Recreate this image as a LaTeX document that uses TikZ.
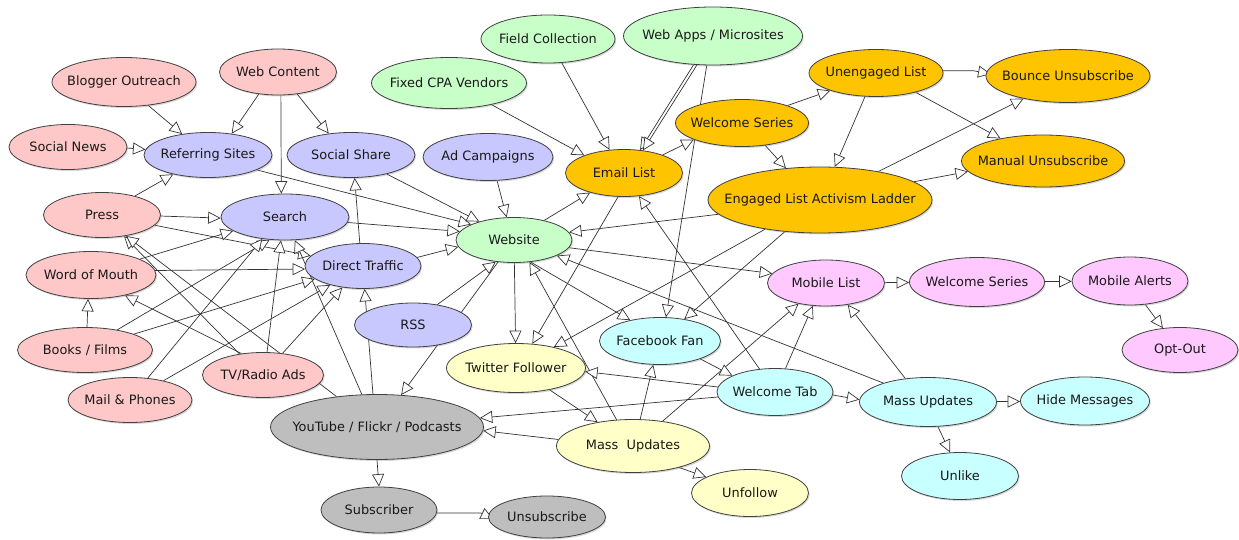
\documentclass[tikz,border=0pt]{standalone}
\usepackage{fontspec}
\setmainfont{DejaVu Sans}
\usetikzlibrary{shapes.geometric,arrows.meta,shadows}
\pgfdeclarelayer{bg}
\pgfsetlayers{bg,main}
\definecolor{cRed}{RGB}{255,200,200}
\definecolor{cBlue}{RGB}{200,200,255}
\definecolor{cGreen}{RGB}{200,255,200}
\definecolor{cOrange}{RGB}{255,196,0}
\definecolor{cPink}{RGB}{255,200,255}
\definecolor{cCyan}{RGB}{200,255,255}
\definecolor{cYellow}{RGB}{255,255,200}
\definecolor{cGray}{RGB}{190,190,190}
\tikzset{
  ell/.style={ellipse, draw=black!75, line width=0.8pt, inner sep=0pt,
    text=black!90, font=\fontsize{12.9pt}{15pt}\selectfont,
    drop shadow={shadow xshift=1.2pt, shadow yshift=-1.5pt, opacity=0.3}},
  nred/.style={ell, fill=cRed},
  nblue/.style={ell, fill=cBlue},
  ngreen/.style={ell, fill=cGreen},
  norange/.style={ell, fill=cOrange},
  npink/.style={ell, fill=cPink},
  ncyan/.style={ell, fill=cCyan},
  nyellow/.style={ell, fill=cYellow},
  ngray/.style={ell, fill=cGray},
  sz/.style 2 args={minimum width=#1pt, minimum height=#2pt},
  conn/.style={draw=black!80, line width=0.7pt,
    -{Triangle[length=12.5pt,width=12pt,fill=white]}}
}
\begin{document}
\begin{tikzpicture}[x=1pt,y=-1pt]
\useasboundingbox (0,0) rectangle (1239,540);
% nodes
\node[nred,sz={144}{49}] (blog) at (124,82) {\makebox[0pt]{Blogger Outreach}};
\node[nred,sz={117}{46}] (webc) at (278,72) {\makebox[0pt]{Web Content}};
\node[nred,sz={118}{45}] (snews) at (68,147) {\makebox[0pt]{Social News}};
\node[nblue,sz={128}{45}] (refs) at (208,155) {\makebox[0pt]{Referring Sites}};
\node[nblue,sz={128}{45}] (sshare) at (351,155) {\makebox[0pt]{Social Share}};
\node[nblue,sz={130}{47}] (adc) at (488,157) {\makebox[0pt]{Ad Campaigns}};
\node[nred,sz={117}{45}] (press) at (102,215) {\makebox[0pt]{Press}};
\node[nblue,sz={128}{46}] (search) at (285,217) {\makebox[0pt]{Search}};
\node[nblue,sz={116}{45}] (dtraf) at (363,266) {\makebox[0pt]{Direct Traffic}};
\node[nred,sz={130}{47}] (wom) at (91,275) {\makebox[0pt]{Word of Mouth}};
\node[nred,sz={135}{45}] (books) at (85,350) {\makebox[0pt]{Books / Films}};
\node[nred,sz={124}{45}] (mail) at (130,400) {\makebox[0pt]{Mail \& Phones}};
\node[nred,sz={121}{45}] (tvr) at (263,375) {\makebox[0pt]{TV/Radio Ads}};
\node[nblue,sz={117}{44}] (rss) at (413,325) {\makebox[0pt]{RSS}};
\node[ngray,sz={213}{65}] (yt) at (377,427) {\makebox[0pt]{YouTube / Flickr / Podcasts}};
\node[ngray,sz={116}{46}] (subs) at (379,510) {\makebox[0pt]{Subscriber}};
\node[ngray,sz={117}{42}] (unsub) at (547,517) {\makebox[0pt]{Unsubscribe}};
\node[ngreen,sz={134}{48}] (field) at (548,39) {\makebox[0pt]{Field Collection}};
\node[ngreen,sz={179}{58}] (webapps) at (713,36) {\makebox[0pt]{Web Apps / Microsites}};
\node[ngreen,sz={155}{51}] (fcpa) at (449,83) {\makebox[0pt]{Fixed CPA Vendors}};
\node[norange,sz={117}{47}] (email) at (624,173) {\makebox[0pt]{Email List}};
\node[norange,sz={133}{47}] (wser) at (742,123) {\makebox[0pt]{Welcome Series}};
\node[ngreen,sz={116}{45}] (web) at (514,240) {\makebox[0pt]{Website}};
\node[norange,sz={134}{47}] (uneng) at (876,73) {\makebox[0pt]{Unengaged List}};
\node[norange,sz={164}{53}] (bounce) at (1068,76) {\makebox[0pt]{Bounce Unsubscribe}};
\node[norange,sz={163}{52}] (manual) at (1043,161) {\makebox[0pt]{Manual Unsubscribe}};
\node[norange,sz={224}{66}] (eng) at (820,200) {\makebox[0pt]{Engaged List Activism Ladder}};
\node[npink,sz={117}{46}] (mob) at (826,283) {\makebox[0pt]{Mobile List}};
\node[ncyan,sz={121}{47}] (fb) at (660,341) {\makebox[0pt]{Facebook Fan}};
\node[nyellow,sz={139}{49}] (tw) at (516,368) {\makebox[0pt]{Twitter Follower}};
\node[ncyan,sz={116}{47}] (wtab) at (775,392) {\makebox[0pt]{Welcome Tab}};
\node[nyellow,sz={153}{53}] (massy) at (633,446) {\makebox[0pt]{Mass\ \ Updates}};
\node[nyellow,sz={117}{47}] (unfollow) at (750,493) {\makebox[0pt]{Unfollow}};
\node[npink,sz={135}{49}] (mser) at (977,282) {\makebox[0pt]{Welcome Series}};
\node[npink,sz={116}{48}] (malerts) at (1130,281) {\makebox[0pt]{Mobile Alerts}};
\node[npink,sz={116}{45}] (optout) at (1180,350) {\makebox[0pt]{Opt-Out}};
\node[ncyan,sz={137}{49}] (massc) at (928,402) {\makebox[0pt]{Mass Updates}};
\node[ncyan,sz={129}{48}] (hide) at (1085,401) {\makebox[0pt]{Hide Messages}};
\node[ncyan,sz={117}{47}] (unlike) at (960,476) {\makebox[0pt]{Unlike}};
% connectors
\begin{pgfonlayer}{bg}
\fill[white] (0,0) rectangle (1239,540);
\draw[conn] (blog.316) -- (refs.141);
\draw[conn] (webc.229) -- (refs.42);
\draw[conn] (webc.277) -- (search.99);
\draw[conn] (webc.311) -- (sshare.136);
\draw[conn] (snews.359) -- (refs.175);
\draw[conn] (press.30) -- (refs.209);
\draw[conn] (refs.343) -- (web.160);
\draw[conn] (sshare.332) -- (web.152);
\draw[conn] (press.359) -- (search.181);
\draw[conn] (search.355) -- (web.171);
\draw[conn] (dtraf.98) -- (sshare.279);
\draw[conn] (dtraf.9) -- (web.187);
\draw[conn] (press.349) -- (dtraf.169);
\draw[conn] (wom.18) -- (search.195);
\draw[conn] (wom.4) -- (dtraf.183);
\draw[conn] (books.85) -- (wom.263);
\draw[conn] (books.32) -- (search.236);
\draw[conn] (books.18) -- (dtraf.195);
\draw[conn] (mail.51) -- (search.224);
\draw[conn] (mail.30) -- (dtraf.210);
\draw[conn] (tvr.135) -- (wom.329);
\draw[conn] (tvr.138) -- (press.316);
\draw[conn] (tvr.80) -- (search.260);
\draw[conn] (tvr.48) -- (dtraf.226);
\draw[conn] (yt.143) -- (press.319);
\draw[conn] (yt.115) -- (search.293);
\draw[conn] (yt.97) -- (dtraf.274);
\draw[conn] (web.234) -- (yt.53);
\draw[conn] (rss.40) -- (web.230);
\draw[conn] (yt.270) -- (subs.90);
\draw[conn] (subs.357) -- ++(44,0) -- ([xshift=5pt,yshift=-2pt]unsub.180);
\draw[conn] (field.300) -- (email.122);
\draw[conn] (webapps.236) -- (email.55);
\draw[conn] (webapps.241) -- (email.50);
\draw[conn] (webapps.258) -- (fb.76);
\draw[conn] (fcpa.333) -- (email.156);
\draw[conn] (adc.291) -- (web.108);
\draw[conn] (web.33) -- (email.210);
\draw[conn] (email.25) -- (wser.199);
\draw[conn] (email.256) -- (tw.56);
\draw[conn] (eng.188) -- (web.8);
\draw[conn] (eng.208) -- (tw.29);
\draw[conn] (eng.222) -- (fb.42);
\draw[conn] (wser.21) -- (uneng.201);
\draw[conn] (wser.316) -- (eng.137);
\draw[conn] (uneng.245) -- (eng.66);
\draw[conn] (uneng.334) -- (manual.152);
\draw[conn] (uneng.2) -- ++(30,0) -- ([xshift=5pt,yshift=2pt]bounce.180);
\draw[conn] (eng.26) -- (bounce.207);
\draw[conn] (eng.11) -- (manual.188);
\draw[conn] (web.352) -- (mob.170);
\draw[conn] (massc.157) -- (web.340);
\draw[conn] (web.307) -- (fb.145);
\draw[conn] (web) -- (tw);
\draw[conn] (massy.122) -- (web.305);
\draw[conn] (wtab.124) -- (email.303);
\draw[conn] (wtab.175) -- (tw.357);
\draw[conn] (wtab.185) -- (yt.5);
\draw[conn] (massy.175) -- (yt.358);
\draw[conn] (tw.327) -- (massy.146);
\draw[conn] (massy.75) -- (fb.254);
\draw[conn] (massy.40) -- (mob.217);
\draw[conn] (wtab.66) -- (mob.240);
\draw[conn] (massc.134) -- (mob.315);
\draw[conn] (fb.336) -- (wtab.159);
\draw[conn] (wtab.357) -- (massc.178);
\draw[conn] (massc) -- (hide);
\draw[conn] (massc.292) -- (unlike.113);
\draw[conn] (mob) -- (mser);
\draw[conn] (mser) -- (malerts);
\draw[conn] (malerts.303) -- (optout.128);
\draw[conn] (massy.335) -- (unfollow.160);
\end{pgfonlayer}
\end{tikzpicture}
\end{document}
